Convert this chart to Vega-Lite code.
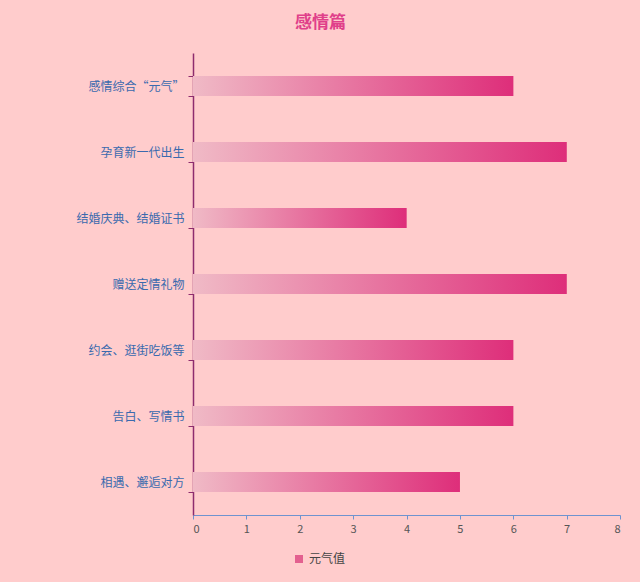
{
  "$schema": "https://vega.github.io/schema/vega-lite/v6.json",
  "width": 427,
  "height": 462,
  "autosize": "none",
  "padding": {"left": 193, "top": 53, "right": 20, "bottom": 67},
  "background": "#FFCCCC",
  "config": {
    "font": "Noto Sans CJK SC",
    "view": {"stroke": null}
  },
  "title": {
    "text": "感情篇",
    "fontSize": 17,
    "fontWeight": "bold",
    "color": "#E0408A",
    "anchor": "middle",
    "dx": -86,
    "offset": 15
  },
  "data": {
    "values": [
      {"item": "感情综合“元气”", "value": 6, "series": "元气值"},
      {"item": "孕育新一代出生", "value": 7, "series": "元气值"},
      {"item": "结婚庆典、结婚证书", "value": 4, "series": "元气值"},
      {"item": "赠送定情礼物", "value": 7, "series": "元气值"},
      {"item": "约会、逛街吃饭等", "value": 6, "series": "元气值"},
      {"item": "告白、写情书", "value": 6, "series": "元气值"},
      {"item": "相遇、邂逅对方", "value": 5, "series": "元气值"}
    ]
  },
  "encoding": {
    "y": {
      "field": "item",
      "type": "nominal",
      "sort": null,
      "title": null,
      "scale": {"paddingInner": 0.7, "paddingOuter": 0.35},
      "axis": {
        "tickBand": "extent",
        "domainColor": "#8E2C6E",
        "domainWidth": 1.5,
        "tickColor": "#8E2C6E",
        "tickSize": 5,
        "labelColor": "#3A6AAE",
        "labelFontSize": 12,
        "labelPadding": 4
      }
    },
    "x": {
      "field": "value",
      "type": "quantitative",
      "title": null,
      "scale": {"domain": [0, 8]},
      "axis": {
        "tickCount": 8,
        "grid": false,
        "domainColor": "#6F93CF",
        "tickColor": "#6F93CF",
        "tickSize": 4,
        "labelColor": "#555555",
        "labelFontSize": 11,
        "labelPadding": 4
      }
    }
  },
  "layer": [
    {
      "mark": {"type": "bar"},
      "encoding": {
        "color": {
          "field": "series",
          "type": "nominal",
          "scale": {"range": ["#E3608F"]},
          "legend": {
            "title": null,
            "orient": "none",
            "legendX": 100,
            "legendY": 500,
            "symbolType": "square",
            "symbolSize": 64,
            "labelFontSize": 12,
            "labelColor": "#444444"
          }
        }
      }
    },
    {
      "mark": {
        "type": "bar",
        "fill": {
          "gradient": "linear",
          "x1": 0, "y1": 0, "x2": 1, "y2": 0,
          "stops": [
            {"offset": 0, "color": "#F0BAC6"},
            {"offset": 1, "color": "#DE2E7A"}
          ]
        }
      }
    }
  ]
}
